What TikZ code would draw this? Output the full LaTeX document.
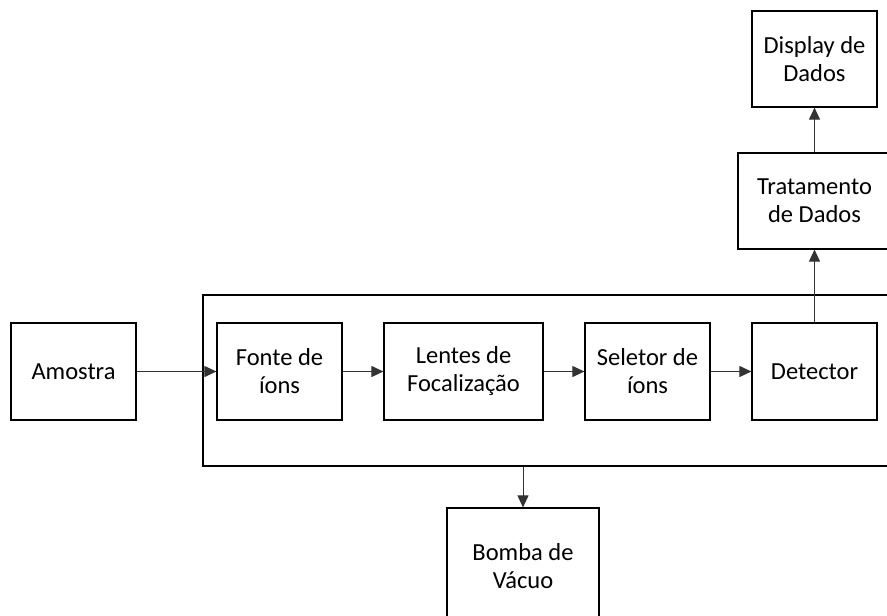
\documentclass[tikz,border=0pt]{standalone}
\usepackage{fontspec}
\setmainfont{Carlito}
\usetikzlibrary{arrows.meta}
\tikzset{
  box/.style={draw=black, line width=1.2pt, inner sep=0pt, align=center,
    font=\fontsize{24.5}{28}\selectfont, minimum width=125pt, minimum height=97pt},
  conn/.style={draw=black!80, line width=1pt, -{Triangle[length=12pt,width=11pt]}}
}
\begin{document}
\begin{tikzpicture}[x=1pt,y=-1pt]
\useasboundingbox (0,0) rectangle (887,616);
\clip (0,0) rectangle (887,616);
\fill[white] (0,0) rectangle (887,616);
\node[box, minimum width=697pt, minimum height=171pt] (container) at (551.5,380.5) {};
\node[box] (amostra) at (73.5,371.5) {Amostra};
\node[box] (fonte) at (279.5,371.5) {Fonte de\\íons};
\node[box, minimum width=159pt] (lentes) at (463.5,371.5) {Lentes de\\Focalização};
\node[box] (seletor) at (647.5,371.5) {Seletor de\\íons};
\node[box] (detector) at (814.5,371.5) {Detector};
\node[box, minimum width=153pt, minimum height=96pt] (tratamento) at (814.5,201) {Tratamento\\de Dados};
\node[box, minimum height=96pt] (display) at (814.5,59) {Display de\\Dados};
\node[box, minimum width=152pt, minimum height=116pt] (bomba) at (523,566) {Bomba de\\Vácuo};
\coordinate (vac) at (container.south -| bomba.north);
\draw[conn] (amostra) -- (fonte);
\draw[conn] (fonte) -- (lentes);
\draw[conn] (lentes) -- (seletor);
\draw[conn] (seletor) -- (detector);
\draw[conn] (detector) -- (tratamento);
\draw[conn] (tratamento) -- (display);
\draw[conn] (vac) -- (bomba);
\end{tikzpicture}
\end{document}
